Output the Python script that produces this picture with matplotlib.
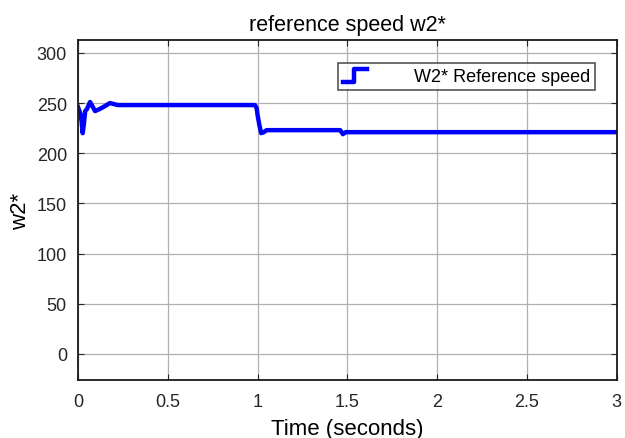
import numpy as np
import matplotlib
matplotlib.use('Agg')
import matplotlib.pyplot as plt
from matplotlib.legend_handler import HandlerLine2D
from matplotlib.lines import Line2D

plt.rcParams['font.family'] = ['Liberation Sans', 'DejaVu Sans']

# reference speed trace (time in s, speed)
t = [0.0, 0.012, 0.02, 0.026, 0.032, 0.04, 0.05, 0.067, 0.08, 0.095,
     0.12, 0.15, 0.178, 0.2, 0.22, 0.6, 0.985, 0.995, 1.0, 1.01,
     1.02, 1.035, 1.05, 1.3, 1.46, 1.475, 1.49, 1.5, 3.0]
w2 = [246, 240, 232, 220, 228, 242, 244, 251, 247, 242,
      244, 247, 250, 249, 248, 248, 248, 245, 238, 228,
      220, 221, 223, 223, 223, 219, 221, 221, 221]

xticks = [0, 0.5, 1, 1.5, 2, 2.5, 3]
yticks = [0, 50, 100, 150, 200, 250, 300]


class StepHandler(HandlerLine2D):
    # legend icon drawn as a small step
    def create_artists(self, legend, orig_handle, xdescent, ydescent,
                       width, height, fontsize, trans):
        x0, x1 = -xdescent, -xdescent + width
        xm = x0 + width * 0.45
        yl, yh = -ydescent - height * 0.05, -ydescent + height * 0.95
        ln = Line2D([x0, xm, xm, x1], [yl, yl, yh, yh])
        self.update_prop(ln, orig_handle, legend)
        ln.set_transform(trans)
        return [ln]


fig = plt.figure(figsize=(6.25, 4.39), dpi=100)
ax = fig.add_axes([0.1248, 0.132, 0.862, 0.775])

line, = ax.plot(t, w2, color='#0000ff', lw=3.2,
                label='W2* Reference speed')

ax.set_xlim(0, 3)
ax.set_ylim(-26, 313)
ax.set_xticks(xticks)
ax.set_xticklabels(['0', '0.5', '1', '1.5', '2', '2.5', '3'])
ax.set_yticks(yticks)
ax.grid(True, color='#b0b0b0', lw=0.9)
ax.tick_params(direction='in', top=True, right=True, labelsize=13,
               length=4, colors='#262626', pad=9)
ax.tick_params(axis='y', pad=8)
for s in ax.spines.values():
    s.set_color('#1a1a1a')
    s.set_linewidth(1.3)

ax.set_title('reference speed w2*', fontsize=15.5, pad=7)
ax.set_xlabel('Time (seconds)', fontsize=16, labelpad=6)
ax.set_ylabel('w2*', fontsize=16, labelpad=4)

leg = ax.legend(handles=[line], handler_map={line: StepHandler()},
                loc='upper right', bbox_to_anchor=(0.96, 0.933),
                fontsize=13, frameon=True, fancybox=False,
                edgecolor='#1a1a1a', handlelength=1.3, handletextpad=2.6,
                borderpad=0.3, borderaxespad=0)
leg.get_frame().set_linewidth(1.1)

fig.savefig('out.png', dpi=100, facecolor='white')
